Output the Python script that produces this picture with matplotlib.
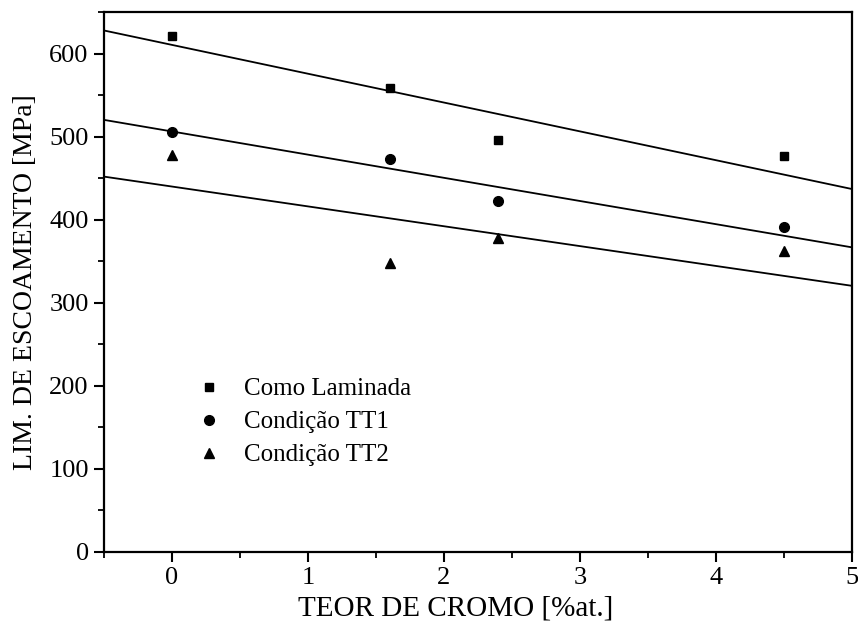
import numpy as np
import matplotlib
matplotlib.use("Agg")
import matplotlib.pyplot as plt
from matplotlib.ticker import MultipleLocator

# ---- data ----
teor_cromo = [0.0, 1.6, 2.4, 4.5]
como_laminada = [621, 559, 496, 477]
condicao_tt1 = [505, 473, 423, 391]
condicao_tt2 = [478, 348, 378, 362]
series_labels = ["Como Laminada", "Condição TT1", "Condição TT2"]
# linear fit lines (intercept at x=0, slope)
fit_intercepts = [610.4, 506.2, 439.9]
fit_slopes = [-34.7, -27.9, -23.9]
x_range = [-0.5, 5.0]
y_range = [0, 650]
x_label = "TEOR DE CROMO [%at.]"
y_label = "LIM. DE ESCOAMENTO [MPa]"

plt.rcParams['font.family'] = ['Liberation Serif', 'DejaVu Serif']

fig = plt.figure(figsize=(8.58, 6.30), dpi=100)
ax = fig.add_axes([104/858, 1-552/630, (852-104)/858, (552-12)/630])

markers = ['s', 'o', '^']
msizes = [6, 7, 7.5]
series = [como_laminada, condicao_tt1, condicao_tt2]
for vals, m, ms, lab in zip(series, markers, msizes, series_labels):
    ax.plot(teor_cromo, vals, linestyle='none', marker=m, markersize=ms,
            color='black', label=lab)

xf = np.array(x_range)
for b, a in zip(fit_intercepts, fit_slopes):
    ax.plot(xf, b + a * xf, color='black', linewidth=1.3)

ax.set_xlim(*x_range)
ax.set_ylim(*y_range)
ax.xaxis.set_major_locator(MultipleLocator(1))
ax.xaxis.set_minor_locator(MultipleLocator(0.5))
ax.yaxis.set_major_locator(MultipleLocator(100))
ax.yaxis.set_minor_locator(MultipleLocator(50))
ax.tick_params(which='major', direction='out', length=7, width=1.5,
               labelsize=19, top=False, right=False, pad=4)
ax.tick_params(which='minor', direction='out', length=4, width=1.3,
               top=False, right=False)
for s in ax.spines.values():
    s.set_linewidth(1.6)

ax.set_xlabel(x_label, fontsize=21)
ax.xaxis.set_label_coords(0.47, -0.08)
ax.set_ylabel(y_label, fontsize=20, labelpad=8)

leg = ax.legend(loc='upper left', bbox_to_anchor=(0.1, 0.355), frameon=False,
                fontsize=18, handletextpad=0.9, labelspacing=0.42,
                handlelength=1.0, borderpad=0.2)

fig.savefig("out.png", dpi=100)
